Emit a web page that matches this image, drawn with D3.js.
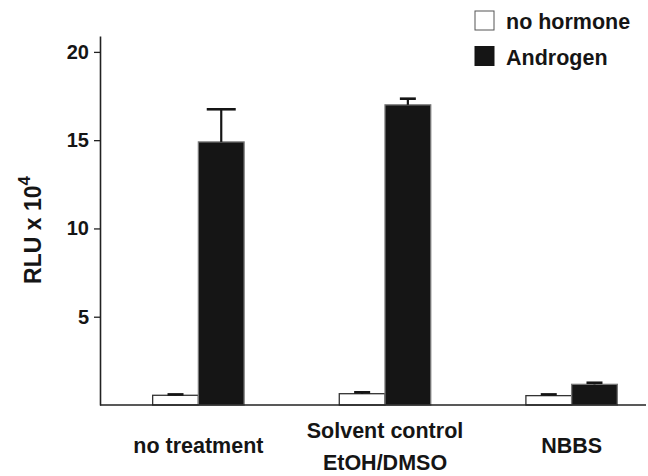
<!DOCTYPE html>
<html>
<head>
<meta charset="utf-8">
<script src="https://cdn.jsdelivr.net/npm/d3@7"></script>
<style>
  body { margin: 0; background: #fff; }
  svg { display: block; font-family: "Liberation Sans", Arial, sans-serif; font-weight: bold; }
</style>
</head>
<body>
<svg id="chart" width="648" height="476"></svg>
<script>
// data
const categories = ["no treatment", "Solvent control|EtOH/DMSO", "NBBS"];
const series = ["no hormone", "Androgen"];
const noHormone = [0.55, 0.64, 0.53];
const noHormoneErr = [0.05, 0.08, 0.07];
const androgen = [14.9, 17.0, 1.17];
const androgenErr = [1.85, 0.35, 0.09];
const yTicks = [5, 10, 15, 20];

const svg = d3.select("#chart");
const fills = { "no hormone": "#fff", "Androgen": "#151515" };
const strokes = { "no hormone": "#333", "Androgen": "#777" };

// scales
const x = d3.scaleBand().domain(categories).range([106, 664])
    .paddingInner(0.51).paddingOuter(0.25);
const xs = d3.scaleBand().domain(series).range([0, x.bandwidth()]);
const y = d3.scaleLinear().domain([0, 20.9]).range([405, 36]);

// bar rows built from the arrays
const rows = [];
categories.forEach((c, i) => {
  rows.push({ cat: c, s: "no hormone", v: noHormone[i], err: noHormoneErr[i] });
  rows.push({ cat: c, s: "Androgen", v: androgen[i], err: androgenErr[i] });
});

// bars
svg.append("g").selectAll("rect")
  .data(rows)
  .enter().append("rect")
  .attr("x", d => x(d.cat) + xs(d.s))
  .attr("y", d => y(d.v))
  .attr("width", xs.bandwidth())
  .attr("height", d => y(0) - y(d.v))
  .attr("fill", d => fills[d.s])
  .attr("stroke", d => strokes[d.s])
  .attr("stroke-width", 1.3);

// error bars (upper only)
const eb = svg.append("g").selectAll("g")
  .data(rows)
  .enter().append("g")
  .attr("transform", d => "translate(" + (x(d.cat) + xs(d.s) + xs.bandwidth() / 2) + ",0)");
eb.append("line")
  .attr("y1", d => y(d.v)).attr("y2", d => y(d.v + d.err))
  .attr("stroke", "#151515").attr("stroke-width", 2.2);
eb.append("line")
  .attr("x1", d => d.err > 1 ? -14.5 : -8).attr("x2", d => d.err > 1 ? 14.5 : 8)
  .attr("y1", d => y(d.v + d.err)).attr("y2", d => y(d.v + d.err))
  .attr("stroke", "#151515").attr("stroke-width", 2.6);

// y axis
const yAxis = svg.append("g")
  .attr("transform", "translate(100,0)")
  .call(d3.axisLeft(y).tickValues(yTicks).tickSize(6).tickPadding(5).tickSizeOuter(0));
yAxis.select(".domain").attr("stroke", "#222").attr("stroke-width", 1.6);
yAxis.selectAll(".tick line").attr("stroke", "#222").attr("stroke-width", 1.3);
yAxis.selectAll(".tick text")
  .attr("font-size", 20).attr("font-weight", "bold")
  .attr("font-family", "Liberation Sans, Arial, sans-serif")
  .attr("fill", "#151515");

// x axis line
svg.append("line")
  .attr("x1", 100).attr("x2", 646)
  .attr("y1", y(0)).attr("y2", y(0))
  .attr("stroke", "#222").attr("stroke-width", 1.6);

// category labels
const catLab = svg.append("g").selectAll("text")
  .data(categories)
  .enter().append("text")
  .attr("text-anchor", "middle")
  .attr("font-size", 21.5)
  .attr("fill", "#151515")
  .attr("x", d => x(d) + x.bandwidth() / 2)
  .attr("y", d => d.includes("|") ? 438 : 453);
catLab.each(function (d) {
  const parts = d.split("|");
  const t = d3.select(this);
  parts.forEach((p, k) => {
    t.append("tspan")
      .attr("x", x(d) + x.bandwidth() / 2)
      .attr("dy", k === 0 ? 0 : 32)
      .text(p);
  });
});

// y label
const yl = svg.append("text")
  .attr("transform", "translate(41,230) rotate(-90)")
  .attr("text-anchor", "middle")
  .attr("font-size", 23)
  .attr("fill", "#151515");
yl.append("tspan").text("RLU x 10");
yl.append("tspan").attr("dy", -11).attr("font-size", 17).text("4");

// legend
const leg = svg.append("g").selectAll("g")
  .data(series)
  .enter().append("g")
  .attr("transform", (d, i) => "translate(475," + (11 + i * 35.5) + ")");
leg.append("rect")
  .attr("width", 19).attr("height", 19)
  .attr("fill", d => fills[d])
  .attr("stroke", d => d === "no hormone" ? "#555" : "#151515")
  .attr("stroke-width", 1);
leg.append("text")
  .attr("x", 31).attr("y", 18)
  .attr("font-size", 21.5)
  .attr("fill", "#151515")
  .text(d => d);
</script>
</body>
</html>
